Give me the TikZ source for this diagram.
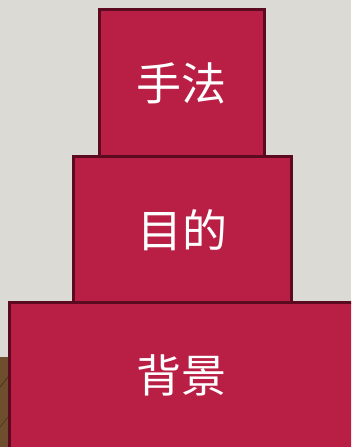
\documentclass[tikz,border=0pt]{standalone}
\usepackage{fontspec}
\newfontfamily\cjk{Noto Sans CJK SC}
\definecolor{bgc}{HTML}{DCDAD5}
\definecolor{boxfill}{HTML}{B91F44}
\definecolor{boxline}{HTML}{5C0A20}
\definecolor{wood}{HTML}{6E4E2C}
\definecolor{wooddark}{HTML}{4E351C}
\begin{document}
\begin{tikzpicture}[x=1pt,y=1pt,
  tier/.style={draw=boxline, line width=3pt, fill=boxfill},
  lbl/.style={text=white, font=\cjk\fontsize{45}{45}\selectfont, inner sep=0pt}]
\useasboundingbox (0,0) rectangle (351,447);
\clip (0,0) rectangle (351,447);
\fill[bgc] (0,0) rectangle (351,447);
% wood at lower left
\fill[wood] (0,-2) rectangle (12,90);
\draw[wooddark, line width=0.8pt] (0,60) -- (12,75);
\draw[wooddark, line width=0.6pt] (0,20) -- (12,35);
% tiers
\draw[tier] (9,144) rectangle (358,-6);
\draw[tier] (73,144) rectangle (291,290);
\draw[tier] (99,290) rectangle (264,437);
\node[lbl] (top) at (181.5,364) {手法};
\node[lbl] (mid) at (182,217) {目的};
\node[lbl] (bot) at (181,72) {背景};
\end{tikzpicture}
\end{document}
